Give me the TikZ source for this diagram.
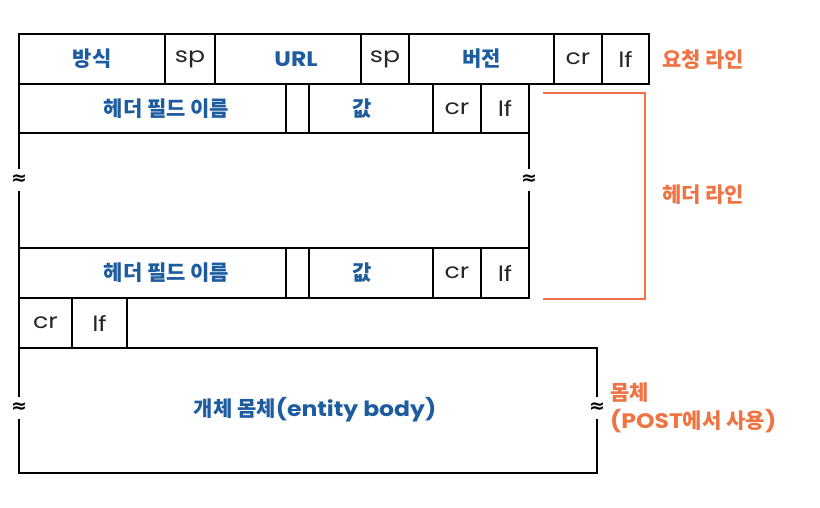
\documentclass[tikz,border=0pt]{standalone}
\usepackage{fontspec}
\setmainfont{Poppins}
\newfontfamily\kr{Noto Sans CJK KR}
\newfontfamily\wide[FakeStretch=1.2]{Poppins}
\newfontfamily\widebf[FakeStretch=1.12]{Poppins}
\newfontfamily\djvfont{DejaVu Sans}
\definecolor{hblue}{HTML}{1D5C9F}
\definecolor{horange}{HTML}{F07443}
\tikzset{
  cell/.style={draw=black, line width=2pt, rectangle, inner sep=0pt, outer sep=0pt},
  lab/.style={text=hblue, font=\kr\bfseries\fontsize{21}{24}\selectfont},
  latlab/.style={text=hblue, font=\widebf\bfseries\fontsize{21}{24}\selectfont},
  sm/.style={text=black!85, font=\wide\fontsize{21}{24}\selectfont},
  olab/.style={text=horange, inner sep=0pt, font=\kr\bfseries\fontsize{21}{24}\selectfont},
  brk/.style={fill=white, inner sep=0pt, minimum height=22pt, font=\djvfont\bfseries\fontsize{19}{19}\selectfont},
  edge/.style={draw=black, line width=2pt},
}
\begin{document}
\begin{tikzpicture}[x=1pt,y=-1pt]
\useasboundingbox (0,0) rectangle (820,507);
% request line
\node[cell, minimum width=146, minimum height=50, lab] (m) at (92,59) {방식};
\node[cell, minimum width=50, minimum height=50, sm] (sp1) at (190,59) {sp};
\node[cell, minimum width=146, minimum height=50] (url) at (288,59) {};
\node[latlab] (urlt) at ([xshift=8pt]url.center) {URL};
\node[cell, minimum width=48, minimum height=50, sm] (sp2) at (385,59) {sp};
\node[cell, minimum width=145, minimum height=50, lab] (ver) at (481.5,59) {버전};
\node[cell, minimum width=48, minimum height=50, sm] (cr1) at (578,59) {cr};
\node[cell, minimum width=47, minimum height=50, sm] (lf1) at (625.5,59) {lf};
% header line 1
\node[cell, minimum width=267, minimum height=49] (h1) at (152.5,108.5) {};
\node[lab] (h1t) at ([xshift=14pt]h1.center) {헤더 필드 이름};
\node[cell, minimum width=23, minimum height=49] (g1) at (297.5,108.5) {};
\node[cell, minimum width=124, minimum height=49] (v1) at (371,108.5) {};
\node[lab] (v1t) at ([xshift=-9pt]v1.center) {값};
\node[cell, minimum width=48, minimum height=49, sm] (cr2) at (457,108.5) {cr};
\node[cell, minimum width=48, minimum height=49, sm] (lf2) at (505,108.5) {lf};
% header line 2
\node[cell, minimum width=267, minimum height=50] (h2) at (152.5,273) {};
\node[lab] (h2t) at ([xshift=14pt]h2.center) {헤더 필드 이름};
\node[cell, minimum width=23, minimum height=50] (g2) at (297.5,273) {};
\node[cell, minimum width=124, minimum height=50] (v2) at (371,273) {};
\node[lab] (v2t) at ([xshift=-9pt]v2.center) {값};
\node[cell, minimum width=48, minimum height=50, sm] (cr3) at (457,273) {cr};
\node[cell, minimum width=48, minimum height=50, sm] (lf3) at (505,273) {lf};
% gap sides
\draw[edge] (h1.south west) -- (h2.north west);
\draw[edge] (lf2.south east) -- (lf3.north east);
\node[brk] (bl) at (19,180) {≈};
\node[brk] (br) at (529,180) {≈};
% final cr lf
\node[cell, minimum width=53, minimum height=50, sm] (cr4) at (45.5,323) {cr};
\node[cell, minimum width=55, minimum height=50, sm] (lf4) at (99.5,323) {lf};
% body
\node[cell, minimum width=578, minimum height=125] (body) at (308,410.5) {};
\node[lab] (bodyt) at ([xshift=7pt,yshift=1pt]body.center) {개체 몸체{\widebf(entity body)}};
\node[brk] (bbl) at (19,408) {≈};
\node[brk] (bbr) at (597,408) {≈};
% bracket
\coordinate (b1) at (543,93);
\coordinate (b2) at (645,93);
\coordinate (b3) at (645,299);
\coordinate (b4) at (543,299);
\draw[horange, line width=1.2pt] (b1) -- (b2) -- (b3) -- (b4);
% labels
\node[olab, anchor=west] (rl) at (662,60) {요청 라인};
\node[olab, anchor=west] (hl) at (662,195) {헤더 라인};
\node[olab, anchor=west] (bd) at (610,393) {몸체};
\node[olab, anchor=west] (post) at (610,421) {{\widebf(POST}에서 사용{\widebf)}};
\end{tikzpicture}
\end{document}
